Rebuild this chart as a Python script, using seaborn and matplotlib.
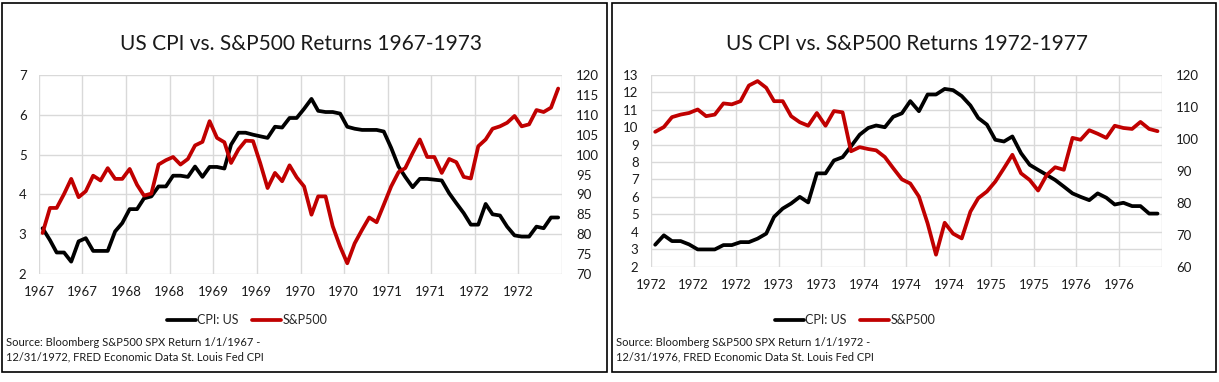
import numpy as np
import pandas as pd
import seaborn as sns
import matplotlib.pyplot as plt
from matplotlib.patches import Rectangle
from matplotlib.lines import Line2D

# monthly values
cpi_1967 = [3.15, 2.85, 2.54, 2.54, 2.31, 2.82, 2.9, 2.58, 2.58, 2.58, 3.07, 3.28,
            3.63, 3.63, 3.9, 3.95, 4.2, 4.2, 4.47, 4.47, 4.44, 4.7, 4.44, 4.69,
            4.69, 4.65, 5.25, 5.55, 5.55, 5.5, 5.46, 5.42, 5.7, 5.68, 5.92, 5.92,
            6.15, 6.4, 6.1, 6.07, 6.07, 6.03, 5.7, 5.65, 5.62, 5.62, 5.62, 5.58,
            5.17, 4.7, 4.44, 4.18, 4.39, 4.39, 4.37, 4.35, 4.03, 3.78, 3.53, 3.24,
            3.24, 3.76, 3.5, 3.47, 3.19, 2.97, 2.94, 2.94, 3.19, 3.15, 3.42, 3.42]
spx_1967 = [80.3, 86.6, 86.6, 90.1, 93.9, 89.3, 90.8, 94.7, 93.5, 96.6, 93.9, 93.9,
            96.4, 92.4, 89.7, 90.2, 97.5, 98.6, 99.4, 97.5, 98.9, 102.3, 103.2, 108.4,
            104.2, 103.1, 97.9, 101.3, 103.5, 103.4, 97.9, 91.6, 95.4, 93.3, 97.3, 94.3,
            92.0, 84.9, 89.5, 89.5, 82.0, 76.9, 72.7, 77.7, 81.1, 84.2, 83.0, 87.4,
            92.0, 95.6, 96.6, 100.4, 103.8, 99.4, 99.4, 95.4, 98.9, 98.1, 94.4, 94.0,
            102.1, 103.8, 106.5, 107.1, 108.0, 109.7, 107.1, 107.6, 111.2, 110.7, 111.8, 116.6]

cpi_1972 = [3.25, 3.79, 3.46, 3.46, 3.27, 2.98, 2.98, 2.98, 3.23, 3.23, 3.4, 3.4,
            3.6, 3.89, 4.85, 5.33, 5.62, 6.0, 5.68, 7.35, 7.35, 8.09, 8.28, 8.9,
            9.57, 9.96, 10.1, 10.0, 10.6, 10.8, 11.5, 10.92, 11.88, 11.88, 12.2, 12.13,
            11.79, 11.25, 10.53, 10.15, 9.28, 9.18, 9.47, 8.51, 7.84, 7.55, 7.26, 6.97,
            6.59, 6.2, 6.0, 5.81, 6.2, 5.95, 5.56, 5.66, 5.47, 5.47, 5.04, 5.04]
spx_1972 = [102.2, 103.7, 106.8, 107.6, 108.1, 109.2, 107.1, 107.6, 111.1, 110.8, 111.8, 116.7,
            118.1, 116.0, 111.8, 111.8, 107.1, 105.2, 104.1, 108.1, 104.1, 108.7, 108.3, 96.1,
            97.4, 96.8, 96.4, 94.3, 90.8, 87.3, 86.0, 81.9, 73.5, 63.7, 73.7, 70.3,
            68.8, 77.2, 81.4, 83.5, 86.6, 90.8, 95.0, 89.2, 87.1, 83.8, 88.7, 91.1,
            90.3, 100.3, 99.7, 102.7, 101.6, 100.3, 104.1, 103.4, 103.1, 105.3, 103.1, 102.4]

titles = ["US CPI vs. S&P500 Returns 1967-1973", "US CPI vs. S&P500 Returns 1972-1977"]
sources = ["Source: Bloomberg S&P500 SPX Return 1/1/1967 -\n12/31/1972, FRED Economic Data St. Louis Fed CPI",
           "Source: Bloomberg S&P500 SPX Return 1/1/1972 -\n12/31/1976, FRED Economic Data St. Louis Fed CPI"]

sns.set_style("white")
plt.rcParams['font.family'] = ['Lato', 'DejaVu Sans']

RED = '#c00000'
GRID = '#d9d9d9'
TXT = '#1a1a1a'

fig = plt.figure(figsize=(12.19, 3.82), dpi=100)
W, H = 1219, 382


def draw_panel(rect, start, cpi, spx, tick_freq, n_ticks, cpi_lim, cpi_ticks,
               spx_lim, spx_ticks, title, source, box, legend_x):
    x0, y0, x1, y1 = rect
    ax = fig.add_axes([x0 / W, 1 - y1 / H, (x1 - x0) / W, (y1 - y0) / H])
    ax2 = ax.twinx()

    dates = pd.date_range(start, periods=len(cpi), freq='MS') + pd.Timedelta(days=15)
    df = pd.DataFrame({'date': dates, 'cpi': cpi, 'spx': spx})

    sns.lineplot(data=df, x='date', y='cpi', ax=ax, color='black', lw=2.7)
    sns.lineplot(data=df, x='date', y='spx', ax=ax2, color=RED, lw=2.7)

    ticks = pd.date_range(start, periods=n_ticks, freq=tick_freq)
    ax.set_xlim(ticks[0], ticks[-1])
    ax.set_xticks(ticks)
    ax.set_xticklabels([str(t.year) for t in ticks[:-1]] + [''])

    ax.set_ylim(*cpi_lim)
    ax.set_yticks(cpi_ticks)
    ax2.set_ylim(*spx_lim)
    ax2.set_yticks(spx_ticks)

    ax.grid(True, color=GRID, lw=1.0)
    ax2.grid(False)
    ax.set_axisbelow(True)
    for a in (ax, ax2):
        for s in a.spines.values():
            s.set_visible(False)
        a.set_xlabel('')
        a.set_ylabel('')
    ax.tick_params(axis='x', length=0, pad=9, labelsize=9.5, colors=TXT)
    ax.tick_params(axis='y', length=0, pad=9, labelsize=9.5, colors=TXT)
    ax2.tick_params(axis='y', length=0, pad=10, labelsize=9.5, colors=TXT)

    fig.text((x0 + x1) / 2 / W, 1 - 44 / H, title, ha='center', va='center',
             fontsize=15, color=TXT)

    bx0, by0, bx1, by1 = box
    fig.patches.append(Rectangle((bx0 / W, 1 - by1 / H), (bx1 - bx0) / W, (by1 - by0) / H,
                                 transform=fig.transFigure, fill=False,
                                 edgecolor='black', lw=1.2))

    handles = [Line2D([], [], color='black', lw=2.7), Line2D([], [], color=RED, lw=2.7)]
    fig.legend(handles, ['CPI: US', 'S&P500'], loc='center',
               bbox_to_anchor=(legend_x / W, 1 - 320 / H), ncol=2, frameon=False,
               fontsize=9, handlelength=2.3, handletextpad=0.1, columnspacing=1.1)

    fig.text((bx0 + 4) / W, 1 - 350 / H, source, ha='left', va='center',
             fontsize=8, linespacing=1.35, color=TXT)


draw_panel((39, 75, 562, 274), '1967-01-01', cpi_1967, spx_1967, '6MS', 13,
           (2, 7), range(2, 8), (70, 120), range(70, 121, 5),
           titles[0], sources[0], (2, 3, 607, 372), 247)
draw_panel((651, 75, 1162, 266.5), '1972-01-01', cpi_1972, spx_1972, '5MS', 13,
           (2, 13), range(2, 14), (60, 120), range(60, 121, 10),
           titles[1], sources[1], (612, 3, 1216, 372), 855)

fig.savefig('out.png', dpi=100)
